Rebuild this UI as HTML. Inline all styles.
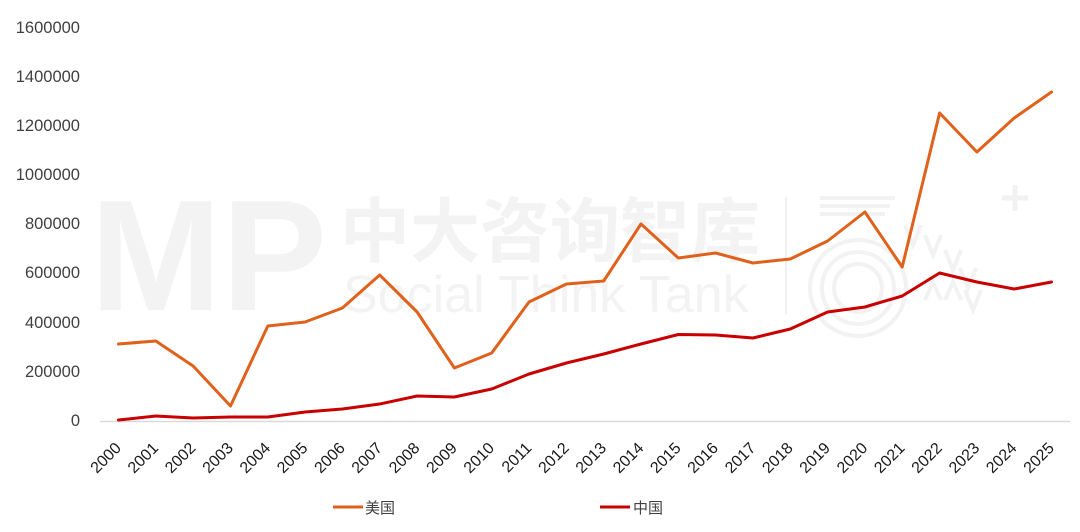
<!DOCTYPE html>
<html>
<head>
<meta charset="utf-8">
<style>
  html,body{margin:0;padding:0;background:#fff;}
  svg{display:block;}
  .yl{font-family:"Liberation Sans","Noto Sans CJK SC",sans-serif;font-size:16.5px;fill:#404040;}
  .xl{font-family:"Liberation Sans","Noto Sans CJK SC",sans-serif;font-size:16px;fill:#1a1a1a;}
  .lg{font-family:"Liberation Sans","Noto Sans CJK SC",sans-serif;font-size:15px;fill:#404040;}
</style>
</head>
<body>
<svg width="1080" height="532" viewBox="0 0 1080 532" xmlns="http://www.w3.org/2000/svg">
  <rect width="1080" height="532" fill="#fff"/>
  <!-- watermark -->
  <g fill="#f3f3f3">
    <text x="90" y="310" font-family="Liberation Sans, sans-serif" font-weight="bold" font-size="158">MP</text>
    <text x="340" y="256" font-family="Liberation Sans, Noto Sans CJK SC, sans-serif" font-weight="bold" font-size="70">中大咨询智库</text>
    <text x="343" y="312" font-family="Liberation Sans, sans-serif" font-size="52">Social Think Tank</text>
  </g>
  <line x1="786" y1="197" x2="786" y2="314" stroke="#f0f0f0" stroke-width="2"/>
  <g fill="none" stroke="#f2f2f2" stroke-width="4">
    <line x1="820" y1="198" x2="895" y2="198"/>
    <line x1="820" y1="206" x2="890" y2="206"/>
    <line x1="820" y1="214" x2="885" y2="214"/>
    <circle cx="858" cy="288" r="48"/>
    <circle cx="858" cy="288" r="36"/>
    <circle cx="858" cy="288" r="24"/>
    <path d="M905 225 l8 20 l8 -20 M925 235 l8 20 l8 -20 M945 250 l8 20 l8 -20 M960 268 l8 20 l8 -20 M965 290 l8 20 l8 -20 M925 300 l8 -18 l8 18 M945 300 l8 -18 l8 18"/>
    <path d="M1015 185 v26 M1002 198 h26" stroke-width="5"/>
  </g>

  <!-- y labels -->
  <g class="yl" text-anchor="end">
    <text x="80" y="33">1600000</text>
    <text x="80" y="82">1400000</text>
    <text x="80" y="131">1200000</text>
    <text x="80" y="180">1000000</text>
    <text x="80" y="229">800000</text>
    <text x="80" y="278">600000</text>
    <text x="80" y="328">400000</text>
    <text x="80" y="377">200000</text>
    <text x="80" y="426">0</text>
  </g>

  <!-- axis -->
  <line x1="100" y1="421.5" x2="1070" y2="421.5" stroke="#d9d9d9" stroke-width="1.5"/>

  <!-- x labels -->
  <g class="xl" text-anchor="end">
    <text transform="translate(122,449) rotate(-45)">2000</text>
    <text transform="translate(159.3,449) rotate(-45)">2001</text>
    <text transform="translate(196.6,449) rotate(-45)">2002</text>
    <text transform="translate(234,449) rotate(-45)">2003</text>
    <text transform="translate(271.3,449) rotate(-45)">2004</text>
    <text transform="translate(308.6,449) rotate(-45)">2005</text>
    <text transform="translate(345.9,449) rotate(-45)">2006</text>
    <text transform="translate(383.2,449) rotate(-45)">2007</text>
    <text transform="translate(420.6,449) rotate(-45)">2008</text>
    <text transform="translate(457.9,449) rotate(-45)">2009</text>
    <text transform="translate(495.2,449) rotate(-45)">2010</text>
    <text transform="translate(532.5,449) rotate(-45)">2011</text>
    <text transform="translate(569.9,449) rotate(-45)">2012</text>
    <text transform="translate(607.2,449) rotate(-45)">2013</text>
    <text transform="translate(644.5,449) rotate(-45)">2014</text>
    <text transform="translate(681.8,449) rotate(-45)">2015</text>
    <text transform="translate(719.1,449) rotate(-45)">2016</text>
    <text transform="translate(756.5,449) rotate(-45)">2017</text>
    <text transform="translate(793.8,449) rotate(-45)">2018</text>
    <text transform="translate(831.1,449) rotate(-45)">2019</text>
    <text transform="translate(868.4,449) rotate(-45)">2020</text>
    <text transform="translate(905.7,449) rotate(-45)">2021</text>
    <text transform="translate(943.1,449) rotate(-45)">2022</text>
    <text transform="translate(980.4,449) rotate(-45)">2023</text>
    <text transform="translate(1017.7,449) rotate(-45)">2024</text>
    <text transform="translate(1055,449) rotate(-45)">2025</text>
  </g>

  <!-- series -->
  <polyline fill="none" stroke="#C80000" stroke-width="3" stroke-linejoin="round" stroke-linecap="round"
    points="118.5,420 155.8,416 193.1,418 230.5,417 267.8,417 305.1,412 342.4,409 379.7,404 417.1,396 454.4,397 491.7,389 529,374 566.4,363 603.7,354 641,344 678.3,334.5 715.6,335 753,338 790.3,329 827.6,312 864.9,307 902.2,296 939.6,273 976.9,282 1014.2,289 1051.5,282"/>
  <polyline fill="none" stroke="#E0611C" stroke-width="3" stroke-linejoin="round" stroke-linecap="round"
    points="118.5,344 155.8,341 193.1,366 230.5,406 267.8,326 305.1,322 342.4,308 379.7,275 417.1,312 454.4,368 491.7,353 529,302 566.4,284 603.7,281 641,224 678.3,258 715.6,253 753,263 790.3,259 827.6,241 864.9,212 902.2,267 939.6,113 976.9,152 1014.2,118 1051.5,92"/>

  <!-- legend -->
  <line x1="333" y1="507" x2="363" y2="507" stroke="#E0611C" stroke-width="3"/>
  <text class="lg" x="365" y="513">美国</text>
  <line x1="600" y1="507" x2="630" y2="507" stroke="#C80000" stroke-width="3"/>
  <text class="lg" x="633" y="513">中国</text>
</svg>
</body>
</html>
